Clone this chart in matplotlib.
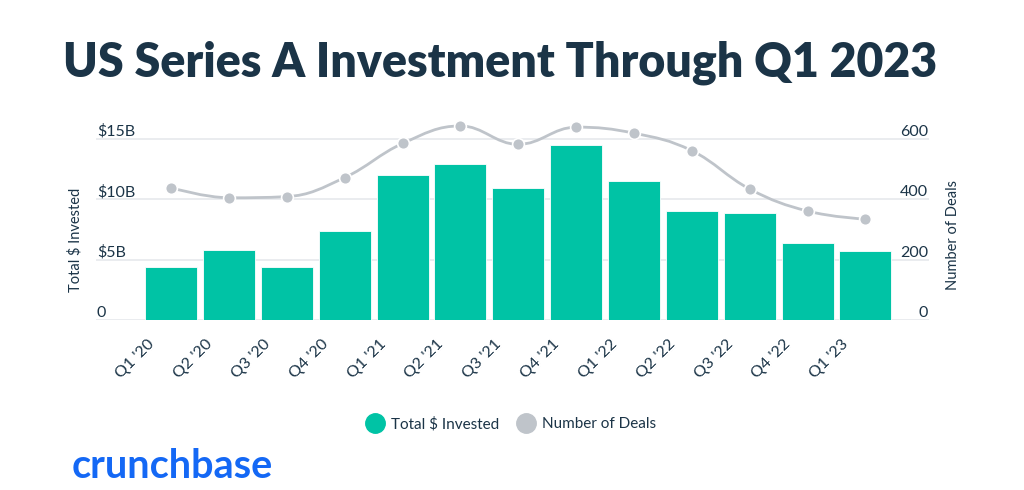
import matplotlib

matplotlib.use("Agg")
import matplotlib.pyplot as plt
import numpy as np
from matplotlib.lines import Line2D
from matplotlib.path import Path
from matplotlib.patches import PathPatch

plt.rcParams["font.family"] = ["Lato", "DejaVu Sans"]

# ---------------------------------------------------------------------------
# Data
# ---------------------------------------------------------------------------
quarters = ["Q1 '20", "Q2 '20", "Q3 '20", "Q4 '20", "Q1 '21", "Q2 '21", "Q3 '21",
            "Q4 '21", "Q1 '22", "Q2 '22", "Q3 '22", "Q4 '22", "Q1 '23"]
invested_b = [4.4, 5.8, 4.4, 7.4, 12.0, 12.9, 10.9, 14.5, 11.5, 9.0, 8.9, 6.4, 5.7]
deals = [438, 405, 409, 472, 585, 643, 582, 639, 619, 561, 434, 361, 334]

left_ticks = [0, 5, 10, 15]
left_labels = ["0", "$5B", "$10B", "$15B"]
right_ticks = [0, 200, 400, 600]
right_labels = ["0", "200", "400", "600"]

TEAL = "#00c3a5"
GREY = "#bfc4ca"
NAVY = "#1b3447"
GRID = "#e6e9ec"


def spline_path(x, y, smoothing=1.5):
    """Build a smooth bezier path through the points (highcharts-style spline)."""
    n = len(x)
    verts = [(x[0], y[0])]
    codes = [Path.MOVETO]
    ctrl = []
    for i in range(n):
        if i == 0 or i == n - 1:
            ctrl.append(((x[i], y[i]), (x[i], y[i])))
            continue
        d = smoothing + 1
        lx, ly = (smoothing * x[i] + x[i - 1]) / d, (smoothing * y[i] + y[i - 1]) / d
        rx, ry = (smoothing * x[i] + x[i + 1]) / d, (smoothing * y[i] + y[i + 1]) / d
        corr = (ry - ly) * (rx - x[i]) / (rx - lx) + y[i] - ry
        ly += corr
        ry += corr
        # keep control points between neighbours to avoid false extremes
        if ly > y[i - 1] and ly > y[i]:
            ly = max(y[i - 1], y[i]); ry = 2 * y[i] - ly
        elif ly < y[i - 1] and ly < y[i]:
            ly = min(y[i - 1], y[i]); ry = 2 * y[i] - ly
        if ry > y[i + 1] and ry > y[i]:
            ry = max(y[i + 1], y[i]); ly = 2 * y[i] - ry
        elif ry < y[i + 1] and ry < y[i]:
            ry = min(y[i + 1], y[i]); ly = 2 * y[i] - ry
        ctrl.append(((lx, ly), (rx, ry)))
    for i in range(1, n):
        verts += [ctrl[i - 1][1], ctrl[i][0], (x[i], y[i])]
        codes += [Path.CURVE4] * 3
    return Path(verts, codes)


fig = plt.figure(figsize=(10.24, 4.9), dpi=100)
ax = fig.add_axes([0.09375, 0.3469, 0.8135, 0.4435])
ax2 = ax.twinx()

xs = np.arange(len(quarters))
ax.bar(xs, invested_b, width=0.9, color=TEAL, edgecolor="white", linewidth=0.6, zorder=2)
ax.set_xlim(-1.3, 13.1)
ax.set_ylim(0, 18)
ax2.set_ylim(0, 720)

for t in left_ticks:
    ax.axhline(t, color=GRID, linewidth=1.2, zorder=0)

path = spline_path(xs.astype(float), np.array(deals, dtype=float))
ax2.add_patch(PathPatch(path, facecolor="none", edgecolor=GREY, linewidth=2.0, zorder=3))
ax2.plot(xs, deals, linestyle="none", marker="o", markersize=8.5, color=GREY,
         markeredgecolor="white", markeredgewidth=1.2, zorder=4)

for a in (ax, ax2):
    a.set_xticks([])
    a.set_yticks([])
    for s in a.spines.values():
        s.set_visible(False)

# tick labels sit just above their gridlines
for t, lab in zip(left_ticks, left_labels):
    ax.text(0.001, t, lab, transform=ax.get_yaxis_transform(), ha="left", va="bottom",
            fontsize=11.5, color=NAVY)
for t, lab in zip(right_ticks, right_labels):
    ax2.text(0.999, t, lab, transform=ax2.get_yaxis_transform(), ha="right",
             va="bottom", fontsize=11.5, color=NAVY)

for x, lab in zip(xs, quarters):
    ax.annotate(lab, (x, 0), xytext=(-10, -12), textcoords="offset points",
                rotation=45, ha="right", va="top", fontsize=11.5, color=NAVY,
                annotation_clip=False)

fig.text(75 / 1024, 1 - 240 / 490, "Total $ Invested", rotation=90, ha="center",
         va="center", fontsize=10.5, color=NAVY)
fig.text(953 / 1024, 1 - 235 / 490, "Number of Deals", rotation=90, ha="center",
         va="center", fontsize=10.5, color=NAVY)

fig.text(500 / 1024, 1 - 63 / 490, "US Series A Investment Through Q1 2023",
         ha="center", va="center", fontsize=33.5, fontweight="heavy", color=NAVY)

handles = [
    Line2D([], [], linestyle="none", marker="o", markersize=14, color=TEAL),
    Line2D([], [], linestyle="none", marker="o", markersize=14, color=GREY),
]
fig.legend(handles, ["Total $ Invested", "Number of Deals"], loc="center",
           bbox_to_anchor=(511 / 1024, 1 - 424 / 490), ncol=2, frameon=False,
           fontsize=11, labelcolor=NAVY, handletextpad=0.4, columnspacing=1.2,
           handlelength=1.2)

fig.text(72 / 1024, 1 - 466 / 490, "crunchbase", ha="left", va="center",
         fontsize=28.5, color="#1468f5", fontweight="bold")

fig.savefig("out.png", dpi=100)
